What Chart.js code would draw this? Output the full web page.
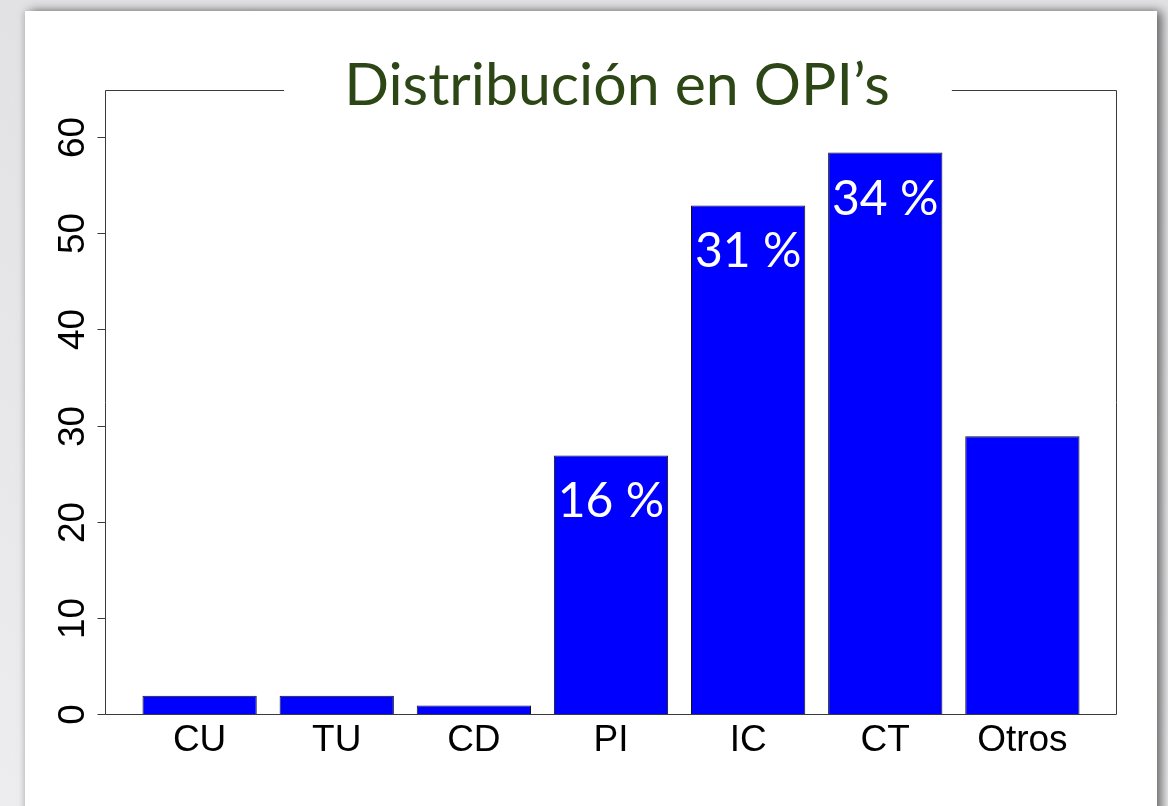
<!DOCTYPE html>
<html>
<head>
<meta charset="utf-8">
<title>Distribución en OPI’s</title>
<script src="https://cdn.jsdelivr.net/npm/chart.js@4.4.1/dist/chart.umd.min.js"></script>
<style>
  html, body {
    margin: 0;
    padding: 0;
    width: 1168px;
    height: 806px;
    overflow: hidden;
    background: linear-gradient(#e2e2e4, #ededef);
  }
  #panel {
    position: absolute;
    left: 25px;
    top: 11px;
    width: 1132px;
    height: 830px;
    background: #ffffff;
    box-shadow: 5px 0 10px rgba(0, 0, 0, 0.55), -2px 0 6px rgba(0, 0, 0, 0.08);
  }
  #wrap {
    position: absolute;
    left: 0;
    top: 0;
    width: 1168px;
    height: 806px;
  }
</style>
</head>
<body>
<div id="panel"></div>
<div id="wrap"><canvas id="chart"></canvas></div>
<script>
const chartTitle = "Distribución en OPI’s";
const categories = ["CU", "TU", "CD", "PI", "IC", "CT", "Otros"];
const counts = [2, 2, 1, 27, 53, 58.5, 29];
const barLabels = ["", "", "", "16 %", "31 %", "34 %", ""];
const yTicks = [0, 10, 20, 30, 40, 50, 60];
const yMax = 65;

// R style barplot geometry: width 1, space 0.2, 4% padding on the x range
const space = 0.2;
const centers = categories.map((c, i) => space + 0.5 + i * (1 + space));
const barsLeft = space;
const barsRight = categories.length * (1 + space);
const xPad = (barsRight - barsLeft) * 0.04;

const gillLike = "Lato, 'Open Sans', sans-serif";
const axisFont = "'Liberation Sans', Arial, sans-serif";

const decorPlugin = {
  id: "decor",
  afterDatasetsDraw(chart) {
    const { ctx, chartArea } = chart;
    const yScale = chart.scales.y;
    const meta = chart.getDatasetMeta(0);

    // percentage labels inside bars
    ctx.save();
    ctx.fillStyle = "#ffffff";
    ctx.font = "48px " + gillLike;
    ctx.textAlign = "center";
    ctx.textBaseline = "alphabetic";
    meta.data.forEach((bar, i) => {
      if (!barLabels[i]) return;
      ctx.fillText(barLabels[i], bar.x, bar.y + 62);
    });
    ctx.restore();

    // title
    ctx.save();
    ctx.font = "59px " + gillLike;
    const titleW = ctx.measureText(chartTitle).width;
    const cx = (chartArea.left + chartArea.right) / 2 + 6;
    ctx.fillStyle = "#2d4616";
    ctx.textAlign = "center";
    ctx.textBaseline = "alphabetic";
    ctx.fillText(chartTitle, cx, chartArea.top + 15);
    ctx.restore();

    // box with a gap for the title
    ctx.save();
    ctx.strokeStyle = "#3a3a3a";
    ctx.lineWidth = 1;
    const L = Math.round(chartArea.left) + 0.5;
    const R = Math.round(chartArea.right) - 0.5;
    const T = Math.round(chartArea.top) + 0.5;
    const B = Math.round(chartArea.bottom) - 0.5;
    ctx.beginPath();
    ctx.moveTo(cx - titleW / 2 - 60, T);
    ctx.lineTo(L, T);
    ctx.lineTo(L, B);
    ctx.lineTo(R, B);
    ctx.lineTo(R, T);
    ctx.lineTo(cx + titleW / 2 + 62, T);
    ctx.stroke();

    // y axis ticks and rotated labels
    ctx.fillStyle = "#000000";
    ctx.font = "37px " + axisFont;
    ctx.textAlign = "center";
    ctx.textBaseline = "alphabetic";
    yTicks.forEach((v) => {
      const y = Math.round(yScale.getPixelForValue(v)) - 0.5;
      ctx.beginPath();
      ctx.moveTo(L - 8, y);
      ctx.lineTo(L, y);
      ctx.stroke();
      ctx.save();
      ctx.translate(L - 22, y);
      ctx.rotate(-Math.PI / 2);
      ctx.fillText(String(v), 0, 0);
      ctx.restore();
    });
    ctx.restore();
  },
};

new Chart(document.getElementById("chart"), {
  type: "bar",
  data: {
    datasets: [
      {
        data: categories.map((c, i) => ({ x: centers[i], y: counts[i] })),
        backgroundColor: "#0000ff",
        borderColor: "#111111",
        borderWidth: 1,
        borderSkipped: false,
        categoryPercentage: 1,
        barPercentage: 1 / (1 + space),
      },
    ],
  },
  options: {
    responsive: true,
    maintainAspectRatio: false,
    animation: false,
    layout: {
      padding: { left: 0, top: 90, right: 51, bottom: 0 },
    },
    plugins: {
      legend: { display: false },
      tooltip: { enabled: false },
      title: { display: false },
    },
    scales: {
      x: {
        type: "linear",
        offset: false,
        min: barsLeft - xPad,
        max: barsRight + xPad,
        grid: { display: false, drawTicks: false },
        border: { display: false },
        afterBuildTicks(scale) {
          scale.ticks = centers.map((v) => ({ value: v }));
        },
        afterFit(scale) {
          scale.height = 91;
        },
        ticks: {
          autoSkip: false,
          maxRotation: 0,
          minRotation: 0,
          padding: 4,
          color: "#000000",
          font: { family: axisFont, size: 37 },
          callback: function (value, index) {
            return categories[index];
          },
        },
      },
      y: {
        min: 0,
        max: yMax,
        grid: { display: false, drawTicks: false },
        border: { display: false },
        ticks: { display: false },
        afterFit(scale) {
          scale.width = 105;
        },
      },
    },
  },
  plugins: [decorPlugin],
});
</script>
</body>
</html>
